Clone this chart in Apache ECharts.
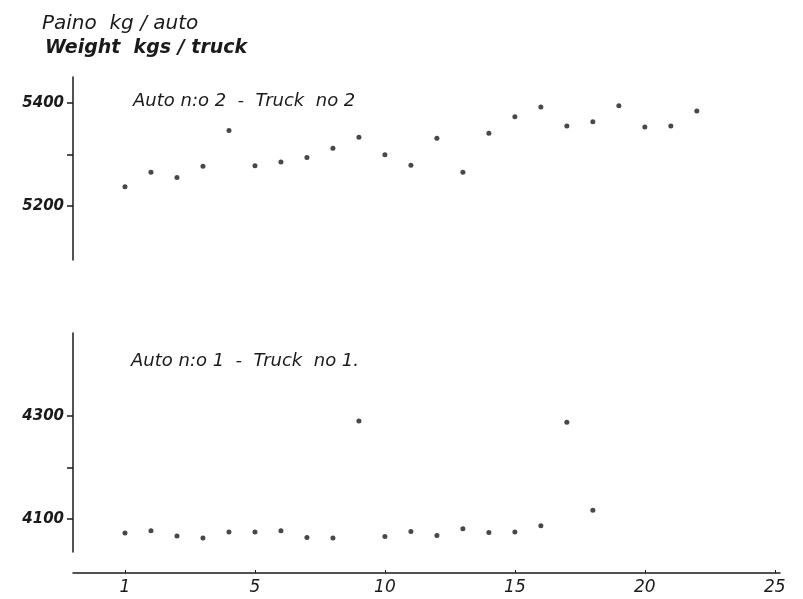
<!DOCTYPE html>
<html>
<head>
<meta charset="utf-8">
<script src="https://cdn.jsdelivr.net/npm/echarts@6/dist/echarts.min.js"></script>
<style>
  html, body { margin: 0; padding: 0; background: #fff; }
  #main { width: 803px; height: 599px; }
</style>
</head>
<body>
<div id="main"></div>
<script>
// positions along the x axis (one per weighing) and the printed tick labels
var xTickValues = [0, 5, 10, 15, 20, 25];
var xTickLabels = ['1', '5', '10', '15', '20', '25'];

// Auto n:o 2 - Truck no 2
var truck2X = [0, 1, 2, 3, 4, 5, 6, 7, 8, 9, 10, 11, 12, 13, 14, 15, 16, 17, 18, 19, 20, 21, 22];
var truck2Kg = [5237, 5265, 5255, 5277, 5346, 5278, 5285, 5294, 5312, 5333, 5299, 5279,
                5331, 5265, 5341, 5373, 5392, 5355, 5363, 5394, 5353, 5355, 5384];
var truck2Ticks = [5200, 5300, 5400];
var truck2Labels = [5200, 5400];

// Auto n:o 1 - Truck no 1
var truck1X = [0, 1, 2, 3, 4, 5, 6, 7, 8, 9, 10, 11, 12, 13, 14, 15, 16, 17, 18];
var truck1Kg = [4073, 4077, 4067, 4063, 4075, 4075, 4077, 4064, 4063, 4290, 4066, 4076,
                4068, 4081, 4074, 4075, 4087, 4288, 4117];
var truck1Ticks = [4100, 4200, 4300];
var truck1Labels = [4100, 4300];

var ink = '#1a1a1a';
var font = "'DejaVu Sans', sans-serif";

var chartDom = document.getElementById('main');
var myChart = echarts.init(chartDom);
var option;

function toPairs(xs, ys) {
  return xs.map(function (x, i) { return [x, ys[i]]; });
}

function yAxisFor(grid, min, max, ticks, labels) {
  return {
    type: 'value',
    gridIndex: grid,
    min: min,
    max: max,
    axisLine: { show: true, onZero: false, lineStyle: { color: ink, width: 1.5 } },
    axisTick: { show: true, length: 6, customValues: ticks, lineStyle: { color: ink, width: 1.5 } },
    axisLabel: {
      customValues: labels,
      formatter: function (v) { return String(v); },
      color: ink,
      fontFamily: font,
      fontStyle: 'italic',
      fontWeight: 'bold',
      fontSize: 15,
      margin: 9
    },
    splitLine: { show: false }
  };
}

var titleStyle = { color: ink, fontFamily: font, fontStyle: 'italic', fontWeight: 'normal', fontSize: 18 };

option = {
  animation: false,
  backgroundColor: '#fff',
  title: [
    {
      text: 'Paino  kg / auto',
      left: 37, top: 9,
      textStyle: { color: ink, fontFamily: font, fontStyle: 'italic', fontWeight: 'normal', fontSize: 20 }
    },
    {
      text: 'Weight  kgs / truck',
      left: 40, top: 34,
      textStyle: { color: ink, fontFamily: font, fontStyle: 'italic', fontWeight: 'bold', fontSize: 19 }
    },
    {
      text: 'Auto n:o 2  -  Truck  no 2',
      left: 128, top: 87,
      textStyle: titleStyle
    },
    {
      text: 'Auto n:o 1  -  Truck  no 1.',
      left: 126, top: 347,
      textStyle: titleStyle
    }
  ],
  grid: [
    { left: 73, width: 707, top: 77, height: 183, containLabel: false },
    { left: 73, width: 707, top: 333, height: 219, containLabel: false }
  ],
  xAxis: [
    { type: 'value', gridIndex: 0, min: -2, max: 25.2, show: false },
    {
      type: 'value',
      gridIndex: 1,
      min: -2,
      max: 25.2,
      position: 'bottom',
      offset: 21,
      axisLine: { show: true, onZero: false, lineStyle: { color: ink, width: 1.5 } },
      axisTick: { show: true, length: 3, inside: true, customValues: xTickValues, lineStyle: { color: ink } },
      axisLabel: {
        customValues: xTickValues,
        formatter: function (v) { return xTickLabels[xTickValues.indexOf(v)]; },
        color: ink,
        fontFamily: font,
        fontStyle: 'italic',
        fontSize: 17,
        margin: 6
      },
      splitLine: { show: false }
    }
  ],
  yAxis: [
    yAxisFor(0, 5095, 5450, truck2Ticks, truck2Labels),
    yAxisFor(1, 4036, 4461, truck1Ticks, truck1Labels)
  ],
  series: [
    {
      name: 'Truck no 2',
      type: 'scatter',
      xAxisIndex: 0,
      yAxisIndex: 0,
      symbolSize: 5,
      itemStyle: { color: ink },
      data: toPairs(truck2X, truck2Kg)
    },
    {
      name: 'Truck no 1',
      type: 'scatter',
      xAxisIndex: 1,
      yAxisIndex: 1,
      symbolSize: 5,
      itemStyle: { color: ink },
      data: toPairs(truck1X, truck1Kg)
    }
  ]
};

option && myChart.setOption(option);
</script>
</body>
</html>
